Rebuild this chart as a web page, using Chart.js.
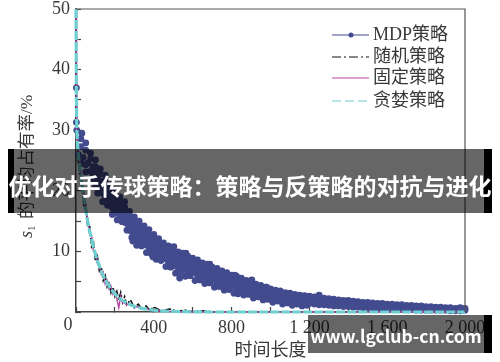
<!DOCTYPE html>
<html>
<head>
<meta charset="utf-8">
<script src="https://cdn.jsdelivr.net/npm/chart.js@4"></script>
<style>
  body { margin: 0; background: #fff; }
  #wrap { position: relative; width: 500px; height: 362px; overflow: hidden; }
  canvas { display: block; }
  .band { position: absolute; background: rgba(0, 0, 0, 0.6); }
  .edge { position: absolute; background: #000; }
  .caption {
    position: absolute; color: #fff; font-family: "Noto Sans CJK SC", sans-serif; font-weight: 700;
    white-space: nowrap; text-align: center;
  }
</style>
</head>
<body>
<div id="wrap">
  <canvas id="chart" width="500" height="362"></canvas>
  <div class="band" style="left:14px;top:149px;width:470px;height:64px"></div>
  <div class="edge" style="left:8px;top:149px;width:6px;height:64px"></div>
  <div class="edge" style="left:484px;top:149px;width:8px;height:64px"></div>
  <div class="caption" style="left:0;width:500px;top:168px;font-size:23px;line-height:34px">优化对手传球策略：策略与反策略的对抗与进化</div>
  <div class="band" style="left:308px;top:315px;width:176px;height:38px"></div>
  <div class="edge" style="left:484px;top:315px;width:8px;height:38px"></div>
  <div class="caption" style="left:308px;width:176px;top:321px;font-size:17.5px;line-height:30px">www.lgclub-cn.com</div>
</div>
<script>
const mdpTimes = [25, 50, 75, 100, 125, 150, 175, 200, 225, 250, 275, 300, 325, 350, 375, 400, 425, 450, 475, 500,
  525, 550, 575, 600, 625, 650, 675, 700, 725, 750, 775, 800, 825, 850, 875, 900, 925, 950, 975, 1000,
  1025, 1050, 1075, 1100, 1125, 1150, 1175, 1200, 1225, 1250, 1275, 1300, 1325, 1350, 1375, 1400, 1425, 1450, 1475, 1500,
  1525, 1550, 1575, 1600, 1625, 1650, 1675, 1700, 1725, 1750, 1775, 1800, 1825, 1850, 1875, 1900, 1925, 1950, 1975, 2000];
const mdpUpper = [28.6, 27.9, 26.2, 25.1, 23.6, 22.6, 21.0, 20.1, 19.0, 18.2, 16.6, 15.7, 15.0, 14.2, 13.6, 12.8, 12.1, 11.4, 10.9, 10.3,
  9.9, 9.7, 9.2, 8.9, 8.6, 8.1, 7.9, 7.4, 7.2, 6.8, 6.5, 6.1, 5.9, 5.6, 5.2, 4.9, 4.6, 4.4, 4.1, 3.8,
  3.6, 3.5, 3.2, 3.1, 2.9, 2.8, 2.7, 2.6, 2.5, 2.4, 2.3, 2.2, 2.1, 2.0, 1.9, 1.9, 1.8, 1.7, 1.6, 1.6,
  1.5, 1.4, 1.4, 1.3, 1.3, 1.2, 1.2, 1.1, 1.1, 1.0, 1.0, 0.9, 0.9, 0.8, 0.8, 0.7, 0.7, 0.6, 0.7, 0.6];
const mdpUpperMid = [27.3, 26.7, 25.3, 24.0, 22.8, 21.5, 20.1, 19.1, 18.2, 17.3, 15.9, 15.0, 14.2, 13.4, 12.7, 12.1, 11.4, 10.8, 10.2, 9.7,
  9.2, 9.0, 8.6, 8.3, 8.0, 7.5, 7.2, 6.8, 6.6, 6.3, 6.0, 5.6, 5.4, 5.1, 4.8, 4.5, 4.2, 4.0, 3.7, 3.5,
  3.2, 3.1, 2.9, 2.8, 2.6, 2.5, 2.4, 2.3, 2.2, 2.1, 2.0, 1.9, 1.8, 1.8, 1.7, 1.6, 1.6, 1.5, 1.4, 1.4];
const mdpLowerMid = [25.2, 24.3, 23.2, 22.0, 20.8, 19.8, 18.5, 17.4, 16.6, 15.7, 14.5, 13.4, 12.7, 12.0, 11.4, 10.7, 10.2, 9.6, 9.0, 8.4,
  8.0, 7.7, 7.4, 7.1, 6.8, 6.4, 6.1, 5.8, 5.5, 5.2, 4.9, 4.7, 4.4, 4.2, 3.9, 3.7, 3.5, 3.2, 3.0, 2.8,
  2.6, 2.4, 2.3, 2.2, 2.0, 1.9, 1.8, 1.7, 1.6, 1.5, 1.5, 1.4, 1.3, 1.2, 1.2, 1.1, 1.1, 1.0, 1.0, 0.9];
const mdpLower = [24.5, 23.1, 21.8, 20.6, 19.7, 18.8, 17.6, 16.3, 15.6, 14.8, 13.5, 12.4, 11.8, 11.1, 10.6, 10.1, 9.5, 8.9, 8.3, 7.6,
  7.3, 7.0, 6.7, 6.5, 6.1, 5.8, 5.5, 5.2, 4.9, 4.6, 4.4, 4.2, 3.9, 3.7, 3.5, 3.3, 3.1, 2.9, 2.6, 2.4,
  2.2, 2.1, 2.0, 1.8, 1.7, 1.6, 1.5, 1.4, 1.3, 1.2, 1.2, 1.1, 1.0, 1.0, 0.9, 0.9, 0.8, 0.8, 0.7, 0.7,
  0.6, 0.6, 0.5, 0.5, 0.5, 0.4, 0.4, 0.4, 0.4, 0.3, 0.3, 0.3, 0.3, 0.3, 0.3, 0.3, 0.2, 0.2, 0.2, 0.3];
const mdpMidTimes = [12, 37, 62, 87, 112, 137, 162, 187, 212, 237, 262, 287, 312, 337, 362, 387, 412, 437, 462, 487,
  512, 537, 562, 587, 612, 637, 662, 687, 712, 737, 762, 787, 812, 837, 862, 887, 912, 937, 962, 987,
  1012, 1037, 1062, 1087, 1112, 1137, 1162, 1187, 1212, 1237, 1262, 1287, 1312, 1337, 1362, 1387, 1412, 1437, 1462, 1487,
  1512, 1537, 1562, 1587, 1612, 1637, 1662, 1687, 1712, 1737, 1762, 1787, 1812, 1837, 1862, 1887, 1912, 1937, 1962, 1987];
const mdpMiddle = [26, 25.5, 24.6, 23.4, 21.9, 20.7, 19.4, 18.4, 17.6, 16.7, 15.5, 14.4, 13.6, 12.9, 12.2, 11.4, 10.9, 10.3, 9.6, 9.1,
  8.7, 8.4, 8.1, 7.8, 7.4, 7.0, 6.7, 6.4, 6.0, 5.8, 5.5, 5.2, 5.0, 4.7, 4.4, 4.2, 3.9, 3.6, 3.4, 3.2,
  2.9, 2.8, 2.6, 2.5, 2.3, 2.2, 2.1, 2.0, 1.9, 1.8, 1.8, 1.7, 1.6, 1.5, 1.4, 1.4, 1.3, 1.3, 1.2, 1.1,
  1.1, 1.0, 1.0, 0.9, 0.9, 0.8, 0.8, 0.8, 0.7, 0.7, 0.7, 0.6, 0.6, 0.6, 0.5, 0.5, 0.5, 0.4, 0.5, 0.5];
const mdpBottomTimes = [112, 137, 162, 187, 212, 237, 262, 287, 312, 337, 362, 387, 412, 437, 462, 487, 512, 537, 562, 587, 612, 637,
  662, 687, 712, 737, 762, 787, 812, 837, 862, 887, 912, 937, 962, 987, 1012, 1037, 1062, 1087, 1112, 1137, 1162, 1187];
const mdpBottom = [19.6, 18.2, 17.6, 16.1, 15.2, 14.9, 13.5, 12.3, 11.0, 10.9, 9.8, 9.6, 8.7, 8.5, 7.5, 7.4, 6.4, 6.6, 5.9, 6.0, 5.2, 5.3,
  4.7, 4.8, 4.1, 4.2, 3.6, 3.7, 3.1, 3.3, 2.8, 2.9, 2.3, 2.5, 2.0, 2.1, 1.6, 1.8, 1.3, 1.5, 1.1, 1.3, 1.0, 1.1];
const mdpFillTimes = [87, 112, 137, 162, 187, 212, 237, 262, 287, 312, 337, 362, 387, 412, 437, 462, 487, 512, 537, 562, 587, 612, 637, 662];
const mdpFillHigh = [24.0, 23.0, 21.6, 20.5, 19.2, 18.4, 17.4, 16.3, 15.0, 14.4, 13.7, 13.0, 12.2, 11.6, 11.0, 10.4, 9.8, 9.4, 9.0, 8.7, 8.4, 8.0, 7.6, 7.2];
const mdpFillLow = [22.4, 20.9, 19.6, 18.7, 17.2, 16.5, 15.6, 14.6, 13.3, 12.5, 11.9, 11.2, 10.6, 10.0, 9.4, 8.8, 8.2, 7.8, 7.5, 7.1, 6.9, 6.5, 6.2, 5.9];
const strayTimes = [2, 2, 4, 30, 292, 395, 503, 533, 688, 833, 904, 980, 1250, 565, 750, 817];
const strayValues = [37, 31.3, 30, 29.5, 11.7, 9.1, 10.8, 5.6, 7.9, 3.0, 5.3, 4.1, 2.8, 9.7, 6.6, 6.1];

const lineTimes = [0, 2, 4, 10, 20, 30, 40, 50, 60, 70, 80, 90, 100, 110, 120, 130, 140, 150, 160, 170, 180, 190, 200, 210, 220, 230, 240, 250, 260,
  280, 300, 320, 340, 360, 380, 400, 440, 480, 520, 560, 600, 650, 700, 800, 900, 1000, 1100, 1200, 1300, 1400, 1500, 1600, 1700, 1800, 1900, 2000];
const randomValues = [50, 38, 29, 26.1, 22.4, 22.0, 17.6, 17.9, 14.0, 14.4, 10.8, 11.4, 8.4, 9.2, 6.8, 7.4, 5.2, 6.0, 4.2, 5.0, 3.2, 4.1, 2.6, 3.4, 2.0, 3.2, 1.6, 2.5, 1.2,
  2.0, 0.7, 1.3, 0.5, 1.0, 0.3, 0.8, 0.2, 0.5, 0.1, 0.3, 0.05, 0.2, 0, 0, 0, 0, 0, 0, 0, 0, 0, 0, 0, 0, 0, 0];
const fixedValues = [50, 40, 30, 27.2, 24.4, 20.8, 19.6, 16.4, 15.6, 12.9, 12.6, 10.0, 10.1, 8.0, 8.0, 6.2, 6.6, 4.6, 5.2, 3.8, 4.3, 2.9, 3.4, 2.2, 0.7, 2.6, 1.5, 1.5, 1.2,
  1.4, 0.7, 0.9, 0.4, 0.6, 0.3, 0.3, 0.2, 0.1, 0.1, 0, 0, 0, 0, 0, 0, 0, 0, 0, 0, 0, 0, 0, 0, 0, 0, 0];
const greedyValues = [50, 36, 30, 26.7, 23.8, 21.2, 18.9, 16.9, 15, 13.4, 12, 10.7, 9.5, 8.5, 7.6, 6.7, 6, 5.3, 4.8, 4.3, 3.8, 3.4, 3, 2.7, 2.4, 2.1, 1.9, 1.7, 1.5,
  1.2, 0.95, 0.76, 0.6, 0.48, 0.38, 0.3, 0.19, 0.12, 0.08, 0.05, 0.03, 0.01, 0, 0, 0, 0, 0, 0, 0, 0, 0, 0, 0, 0, 0, 0];

const legendNames = ['MDP策略', '随机策略', '固定策略', '贪婪策略'];
const xTitle = '时间长度';
const yTitleParts = ['的平均占有率/%'];

const serif = '"Liberation Serif", "Noto Sans CJK SC", serif';
const inkColor = '#383838';
const mdpColor = '#434b8f';
const randomColor = '#111111';
const fixedColor = '#b5459f';
const greedyColor = '#6fd0d2';

const toPoints = (xs, ys) => ys.map((y, i) => ({ x: xs[i], y }));

const mdpPoints = [
  ...toPoints(mdpTimes, mdpUpper),
  ...toPoints(mdpTimes, mdpUpperMid),
  ...toPoints(mdpMidTimes, mdpMiddle),
  ...toPoints(mdpTimes, mdpLowerMid),
  ...toPoints(mdpTimes, mdpLower),
  ...toPoints(mdpBottomTimes, mdpBottom),
  ...toPoints(mdpFillTimes, mdpFillHigh),
  ...toPoints(mdpFillTimes, mdpFillLow),
  ...toPoints(strayTimes, strayValues)
];

// frame, the lone "0" under the corner, the rotated y title and the legend
const decorations = {
  id: 'decorations',
  afterDraw(chart) {
    const { ctx, chartArea: area } = chart;
    ctx.save();
    ctx.strokeStyle = '#555';
    ctx.lineWidth = 1.2;
    ctx.beginPath();
    ctx.moveTo(area.left, area.top);
    ctx.lineTo(area.right, area.top);
    ctx.lineTo(area.right, area.bottom);
    ctx.stroke();

    ctx.fillStyle = inkColor;
    ctx.font = '18px ' + serif;
    ctx.textAlign = 'center';
    ctx.textBaseline = 'middle';
    ctx.fillText('0', 68, 325);

    ctx.save();
    ctx.translate(32, 238);
    ctx.rotate(-Math.PI / 2);
    ctx.textAlign = 'left';
    ctx.textBaseline = 'alphabetic';
    ctx.font = 'italic 18px ' + serif;
    ctx.fillText('s', 0, 0);
    ctx.font = '11px ' + serif;
    ctx.fillText('1', 7, 3);
    ctx.font = '17.5px ' + serif;
    ctx.fillText(yTitleParts[0], 19, 0);
    ctx.restore();

    const rows = [
      { y: 35, color: mdpColor, dash: [], dot: true },
      { y: 57, color: randomColor, dash: [9, 3, 2, 3] },
      { y: 78, color: fixedColor, dash: [] },
      { y: 101, color: greedyColor, dash: [9, 4] }
    ];
    ctx.textAlign = 'left';
    ctx.textBaseline = 'middle';
    ctx.font = '18px ' + serif;
    rows.forEach((row, i) => {
      ctx.strokeStyle = row.color;
      ctx.lineWidth = 1.2;
      ctx.setLineDash(row.dash);
      ctx.beginPath();
      ctx.moveTo(332, row.y);
      ctx.lineTo(369, row.y);
      ctx.stroke();
      ctx.setLineDash([]);
      if (row.dot) {
        ctx.fillStyle = row.color;
        ctx.beginPath();
        ctx.arc(351, row.y, 2.5, 0, Math.PI * 2);
        ctx.fill();
      }
      ctx.fillStyle = inkColor;
      ctx.fillText(legendNames[i], 373, row.y);
    });
    ctx.restore();
  }
};

new Chart(document.getElementById('chart').getContext('2d'), {
  type: 'line',
  data: {
    datasets: [
      { label: legendNames[0], data: mdpPoints, showLine: false, pointRadius: 3.4, pointBackgroundColor: mdpColor, pointBorderWidth: 0, order: 4, clip: false },
      { label: legendNames[1], data: toPoints(lineTimes, randomValues), borderColor: randomColor, borderWidth: 1.6, borderDash: [6, 2, 2, 2], pointRadius: 0, order: 3, clip: false },
      { label: legendNames[2], data: toPoints(lineTimes, fixedValues), borderColor: fixedColor, borderWidth: 1.4, pointRadius: 0, order: 2, clip: false },
      { label: legendNames[3], data: toPoints(lineTimes, greedyValues), borderColor: greedyColor, borderWidth: 3.2, borderDash: [9, 2], pointRadius: 0, order: 1, clip: false }
    ]
  },
  options: {
    responsive: false,
    animation: false,
    layout: { padding: { top: 9, right: 35, left: 0, bottom: 0 } },
    plugins: { legend: { display: false }, tooltip: { enabled: false } },
    scales: {
      x: {
        type: 'linear',
        min: 0,
        max: 2000,
        afterFit: scale => { scale.height = 50; scale.paddingLeft = 0; scale.paddingRight = 0; },
        border: { color: '#444', width: 1.5 },
        grid: { drawOnChartArea: false, tickLength: -5, tickColor: '#444', tickWidth: 1.2 },
        title: { display: true, text: xTitle, color: inkColor, font: { family: serif, size: 18 }, padding: { top: 3, bottom: 0 } },
        ticks: {
          stepSize: 200,
          autoSkip: false,
          maxRotation: 0,
          padding: 10,
          color: inkColor,
          font: { family: serif, size: 18 },
          callback: value => {
            if (value === 0 || value % 400 !== 0) return '';
            return value >= 1000 ? String(value).replace(/^(\d)/, '$1 ') : String(value);
          }
        }
      },
      y: {
        min: 0,
        max: 50,
        afterFit: scale => { scale.width = 76; scale.paddingTop = 0; scale.paddingBottom = 0; },
        border: { color: '#444', width: 1.5 },
        grid: { drawOnChartArea: false, tickLength: -5, tickColor: '#444', tickWidth: 1.2 },
        ticks: {
          stepSize: 5,
          autoSkip: false,
          padding: 11,
          color: inkColor,
          font: { family: serif, size: 18 },
          callback: value => (value !== 0 && value % 10 === 0 ? String(value) : '')
        }
      }
    }
  },
  plugins: [decorations]
});
</script>
</body>
</html>
